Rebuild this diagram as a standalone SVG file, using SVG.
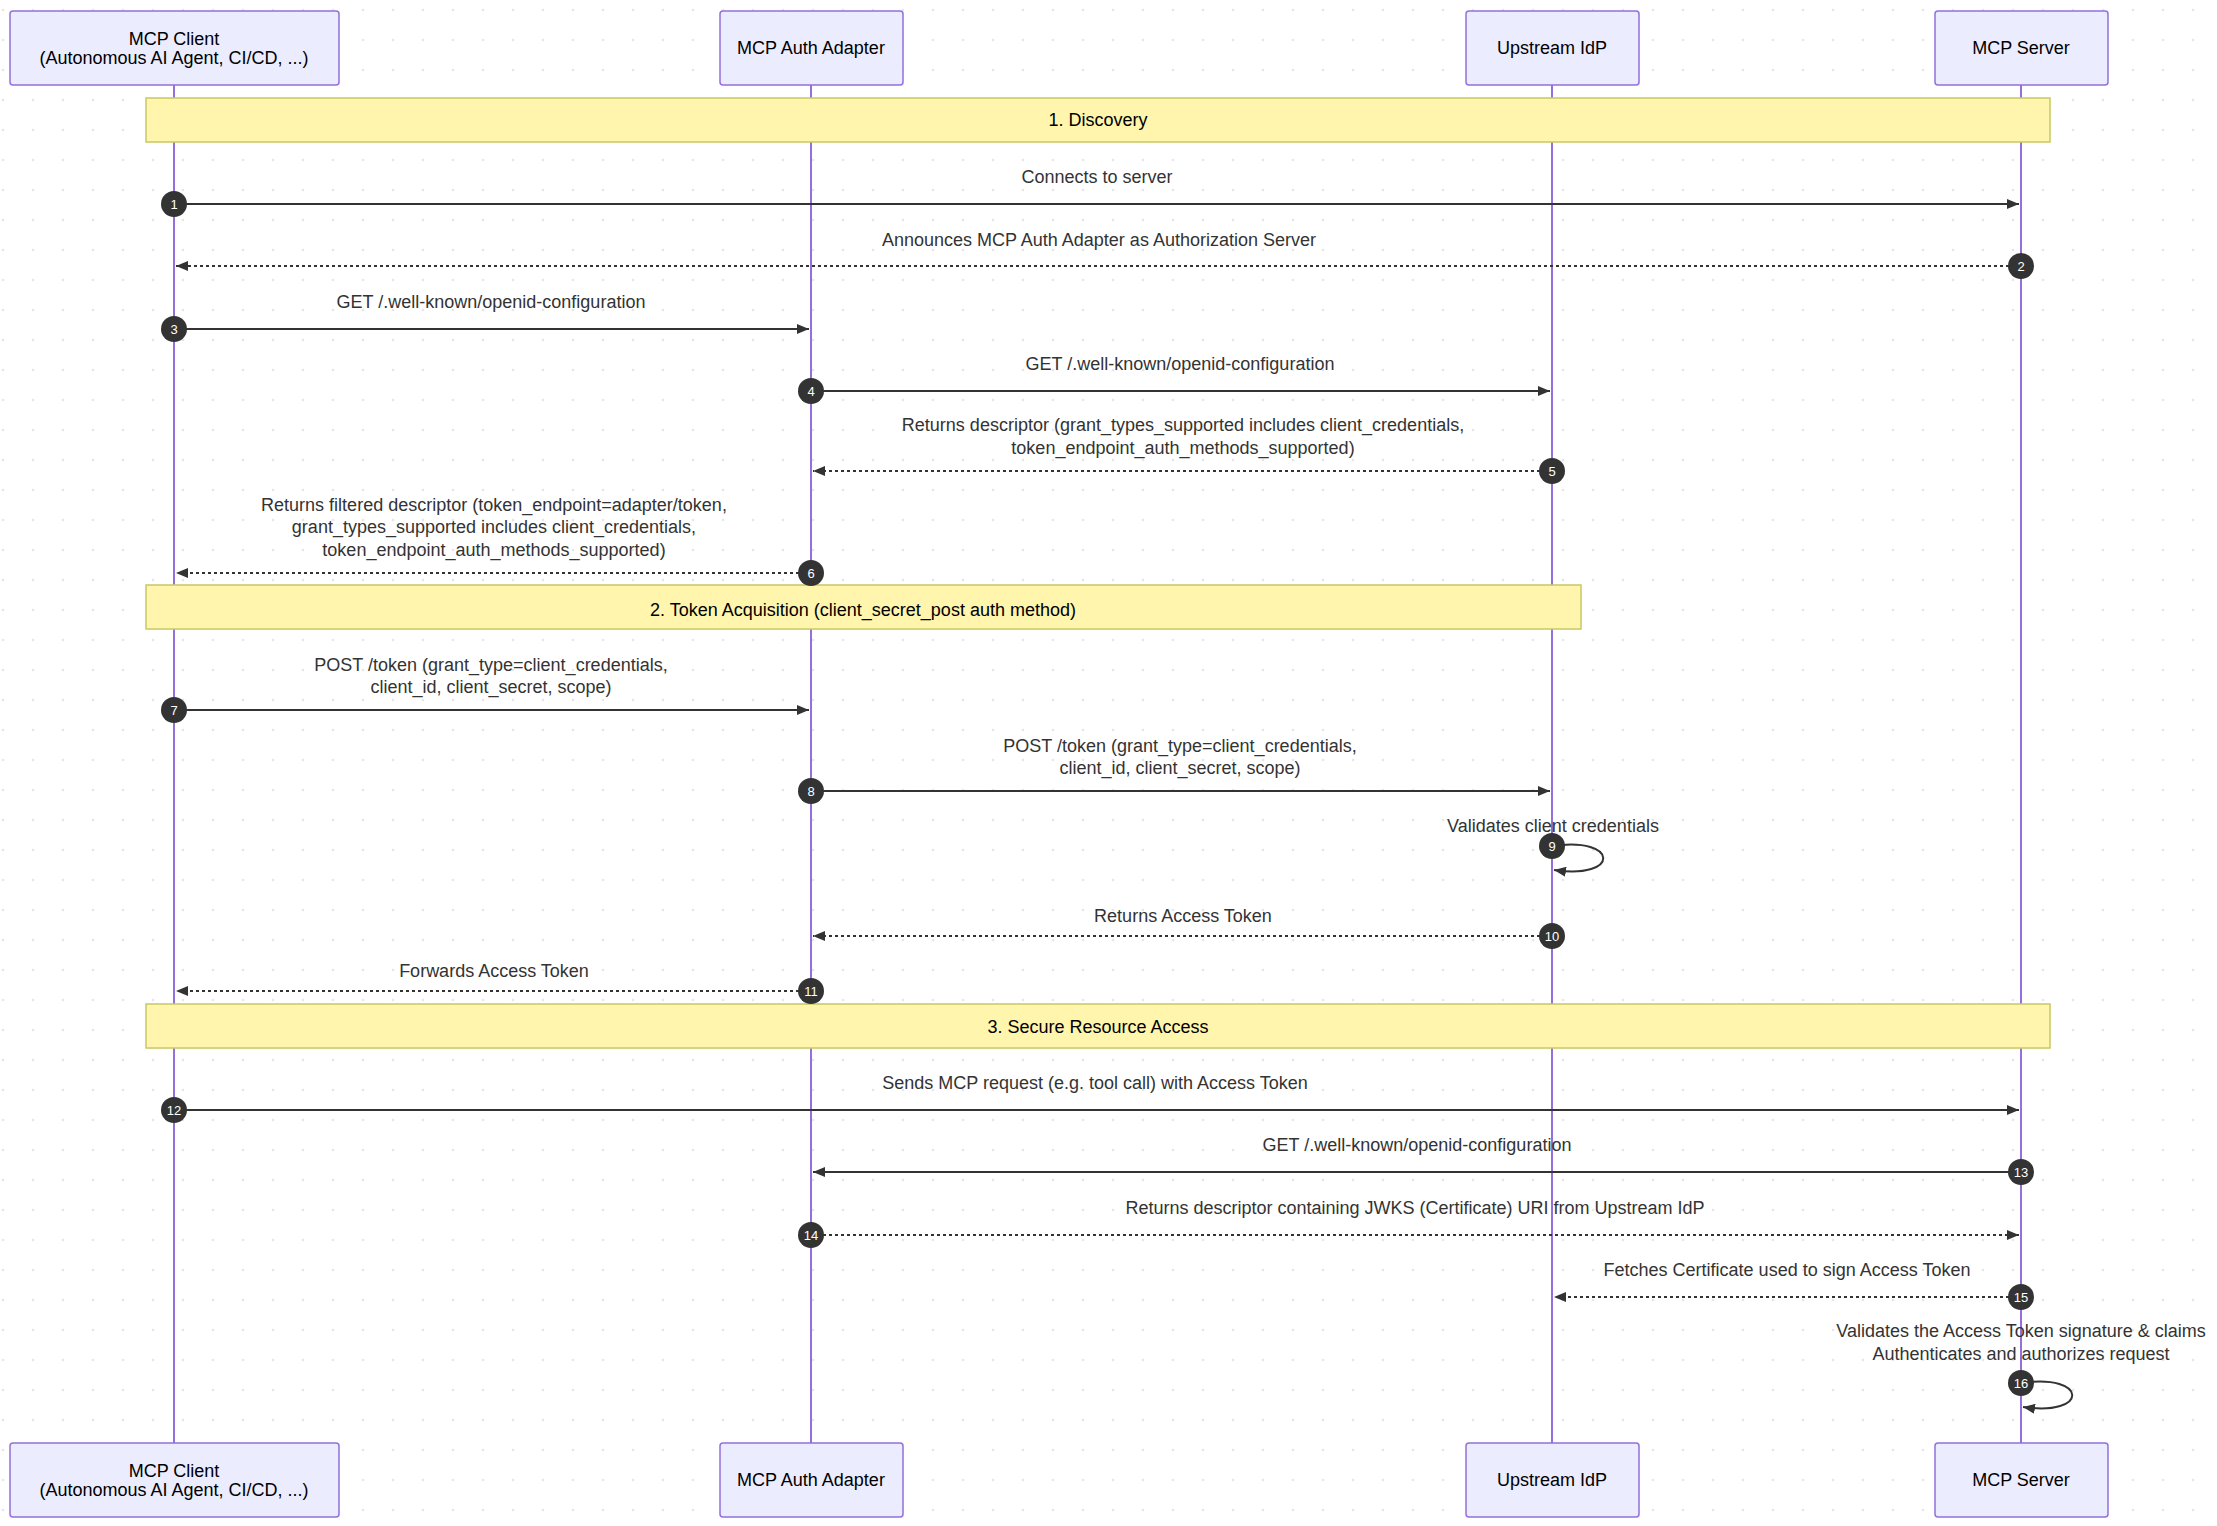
<svg xmlns="http://www.w3.org/2000/svg" width="2217" height="1526" viewBox="0 0 2217 1526">
<style>
.actor rect{fill:#ECECFF;stroke:#9370DB;stroke-width:1.5}
.actor text{font-family:"Liberation Sans",Arial,sans-serif;font-size:18px;fill:#000;text-anchor:middle}
.life{stroke:#9370DB;stroke-width:2}
.band{fill:#FFF5AD;stroke:#C8C864;stroke-width:1.5}
.bt{font-family:"Liberation Sans",Arial,sans-serif;font-size:18px;fill:#000;text-anchor:middle}
.lbl{font-family:"Liberation Sans",Arial,sans-serif;font-size:18px;fill:#333;text-anchor:middle}
.s{stroke:#333;stroke-width:2;fill:none}
.d{stroke:#333;stroke-width:2;fill:none;stroke-dasharray:3,3}
.num circle{fill:#333}
.num text{font-family:"Liberation Sans",Arial,sans-serif;font-size:13px;fill:#fff;text-anchor:middle}
</style>
<defs>
<pattern id="dots" width="30" height="30" patternUnits="userSpaceOnUse"><circle cx="3" cy="10" r="1.3" fill="#e6e6e6"/></pattern>
<marker id="ah" viewBox="0 0 12 10" refX="12" refY="5" markerWidth="12" markerHeight="10" markerUnits="userSpaceOnUse" orient="auto"><path d="M0,0 L12,5 L0,10 z" fill="#333"/></marker>
</defs>
<rect width="2217" height="1526" fill="#fff"/>
<rect width="2217" height="1526" fill="url(#dots)"/>
<g id="lifelines">
<line class="life" x1="174" y1="85" x2="174" y2="1443"/>
<line class="life" x1="811" y1="85" x2="811" y2="1443"/>
<line class="life" x1="1552" y1="85" x2="1552" y2="1443"/>
<line class="life" x1="2021" y1="85" x2="2021" y2="1443"/>
</g>
<g id="client" class="actor"><rect x="10" y="11" width="329" height="74" rx="3"/><text x="174" y="45">MCP Client</text><text x="174" y="64">(Autonomous AI Agent, CI/CD, ...)</text>
<rect x="10" y="1443" width="329" height="74" rx="3"/><text x="174" y="1477">MCP Client</text><text x="174" y="1496">(Autonomous AI Agent, CI/CD, ...)</text></g>
<g id="adapter" class="actor"><rect x="720" y="11" width="183" height="74" rx="3"/><text x="811" y="54">MCP Auth Adapter</text>
<rect x="720" y="1443" width="183" height="74" rx="3"/><text x="811" y="1486">MCP Auth Adapter</text></g>
<g id="idp" class="actor"><rect x="1466" y="11" width="173" height="74" rx="3"/><text x="1552" y="54">Upstream IdP</text>
<rect x="1466" y="1443" width="173" height="74" rx="3"/><text x="1552" y="1486">Upstream IdP</text></g>
<g id="server" class="actor"><rect x="1935" y="11" width="173" height="74" rx="3"/><text x="2021" y="54">MCP Server</text>
<rect x="1935" y="1443" width="173" height="74" rx="3"/><text x="2021" y="1486">MCP Server</text></g>
<g id="bands">
<rect class="band" x="146" y="98" width="1904" height="44"/><text class="bt" x="1098" y="126">1. Discovery</text>
<rect class="band" x="146" y="585" width="1435" height="44"/><text class="bt" x="863" y="616">2. Token Acquisition (client_secret_post auth method)</text>
<rect class="band" x="146" y="1004" width="1904" height="44"/><text class="bt" x="1098" y="1033">3. Secure Resource Access</text>
</g>
<g id="connectors">
<line class="s" x1="174" y1="204" x2="2019" y2="204" marker-end="url(#ah)"/>
<line class="d" x1="2021" y1="266" x2="176" y2="266" marker-end="url(#ah)"/>
<line class="s" x1="174" y1="329" x2="809" y2="329" marker-end="url(#ah)"/>
<line class="s" x1="811" y1="391" x2="1550" y2="391" marker-end="url(#ah)"/>
<line class="d" x1="1552" y1="471" x2="813" y2="471" marker-end="url(#ah)"/>
<line class="d" x1="811" y1="573" x2="176" y2="573" marker-end="url(#ah)"/>
<line class="s" x1="174" y1="710" x2="809" y2="710" marker-end="url(#ah)"/>
<line class="s" x1="811" y1="791" x2="1550" y2="791" marker-end="url(#ah)"/>
<path class="s" d="M1552,846 C1620,836 1620,880 1554,870" marker-end="url(#ah)"/>
<line class="d" x1="1552" y1="936" x2="813" y2="936" marker-end="url(#ah)"/>
<line class="d" x1="811" y1="991" x2="176" y2="991" marker-end="url(#ah)"/>
<line class="s" x1="174" y1="1110" x2="2019" y2="1110" marker-end="url(#ah)"/>
<line class="s" x1="2021" y1="1172" x2="813" y2="1172" marker-end="url(#ah)"/>
<line class="d" x1="811" y1="1235" x2="2019" y2="1235" marker-end="url(#ah)"/>
<line class="d" x1="2021" y1="1297" x2="1554" y2="1297" marker-end="url(#ah)"/>
<path class="s" d="M2021,1383 C2089,1373 2089,1417 2023,1407" marker-end="url(#ah)"/>
</g>
<g id="labels">
<text class="lbl" x="1097" y="183">Connects to server</text>
<text class="lbl" x="1099" y="246">Announces MCP Auth Adapter as Authorization Server</text>
<text class="lbl" x="491" y="308">GET /.well-known/openid-configuration</text>
<text class="lbl" x="1180" y="370">GET /.well-known/openid-configuration</text>
<text class="lbl" x="1183" y="431">Returns descriptor (grant_types_supported includes client_credentials,</text>
<text class="lbl" x="1183" y="454">token_endpoint_auth_methods_supported)</text>
<text class="lbl" x="494" y="511">Returns filtered descriptor (token_endpoint=adapter/token,</text>
<text class="lbl" x="494" y="533">grant_types_supported includes client_credentials,</text>
<text class="lbl" x="494" y="556">token_endpoint_auth_methods_supported)</text>
<text class="lbl" x="491" y="671">POST /token (grant_type=client_credentials,</text>
<text class="lbl" x="491" y="693">client_id, client_secret, scope)</text>
<text class="lbl" x="1180" y="752">POST /token (grant_type=client_credentials,</text>
<text class="lbl" x="1180" y="774">client_id, client_secret, scope)</text>
<text class="lbl" x="1553" y="832">Validates client credentials</text>
<text class="lbl" x="1183" y="922">Returns Access Token</text>
<text class="lbl" x="494" y="977">Forwards Access Token</text>
<text class="lbl" x="1095" y="1089">Sends MCP request (e.g. tool call) with Access Token</text>
<text class="lbl" x="1417" y="1151">GET /.well-known/openid-configuration</text>
<text class="lbl" x="1415" y="1214">Returns descriptor containing JWKS (Certificate) URI from Upstream IdP</text>
<text class="lbl" x="1787" y="1276">Fetches Certificate used to sign Access Token</text>
<text class="lbl" x="2021" y="1337">Validates the Access Token signature &amp; claims</text>
<text class="lbl" x="2021" y="1360">Authenticates and authorizes request</text>
</g>
<g id="numbers" class="num">
<circle cx="174" cy="204" r="13"/><text x="174" y="209">1</text>
<circle cx="2021" cy="266" r="13"/><text x="2021" y="271">2</text>
<circle cx="174" cy="329" r="13"/><text x="174" y="334">3</text>
<circle cx="811" cy="391" r="13"/><text x="811" y="396">4</text>
<circle cx="1552" cy="471" r="13"/><text x="1552" y="476">5</text>
<circle cx="811" cy="573" r="13"/><text x="811" y="578">6</text>
<circle cx="174" cy="710" r="13"/><text x="174" y="715">7</text>
<circle cx="811" cy="791" r="13"/><text x="811" y="796">8</text>
<circle cx="1552" cy="846" r="13"/><text x="1552" y="851">9</text>
<circle cx="1552" cy="936" r="13"/><text x="1552" y="941">10</text>
<circle cx="811" cy="991" r="13"/><text x="811" y="996">11</text>
<circle cx="174" cy="1110" r="13"/><text x="174" y="1115">12</text>
<circle cx="2021" cy="1172" r="13"/><text x="2021" y="1177">13</text>
<circle cx="811" cy="1235" r="13"/><text x="811" y="1240">14</text>
<circle cx="2021" cy="1297" r="13"/><text x="2021" y="1302">15</text>
<circle cx="2021" cy="1383" r="13"/><text x="2021" y="1388">16</text>
</g>
</svg>
